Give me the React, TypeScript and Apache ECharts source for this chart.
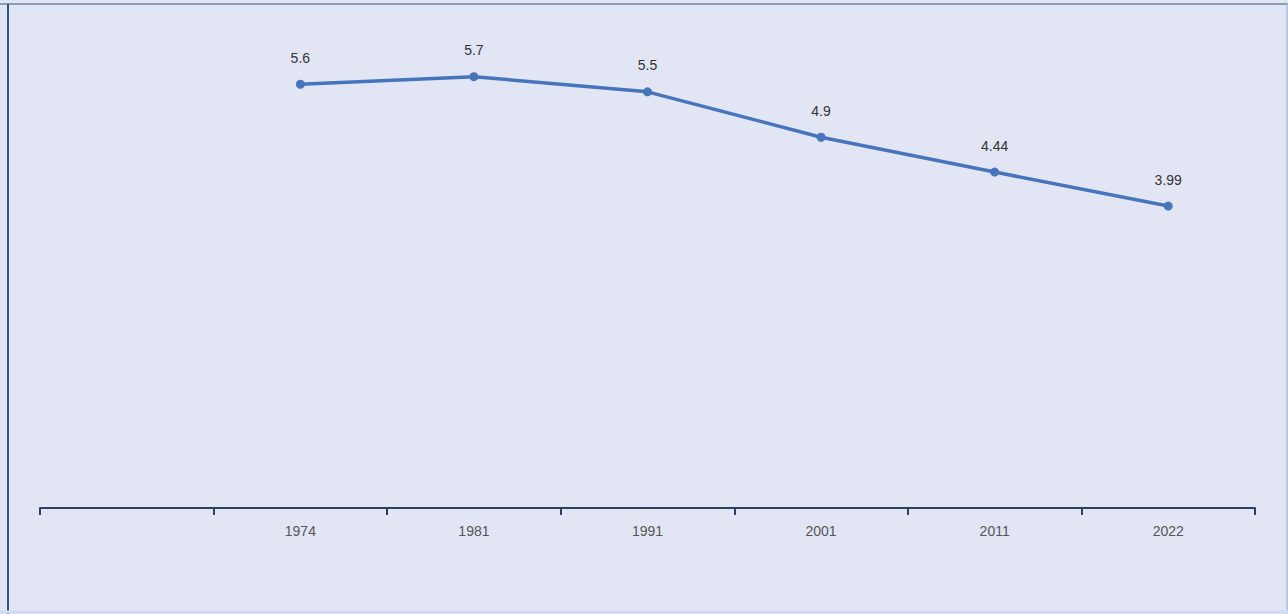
import React, { useEffect, useRef } from "react";
import * as echarts from "echarts";

const categories = ["", "1974", "1981", "1991", "2001", "2011", "2022"];
const values: (number | null)[] = [null, 5.6, 5.7, 5.5, 4.9, 4.44, 3.99];
const labels = ["", "5.6", "5.7", "5.5", "4.9", "4.44", "3.99"];

export default function App() {
  const ref = useRef<HTMLDivElement>(null);
  useEffect(() => {
    if (!ref.current) return;
    const chart = echarts.init(ref.current, undefined, { renderer: "svg" });
    chart.setOption({
      animation: false,
      backgroundColor: "#e2e5f4",
      grid: { left: 40, right: 33, top: 54, bottom: 106 },
      graphic: [
        { type: "line", shape: { x1: 0, y1: 4, x2: 1288, y2: 4 }, style: { stroke: "#8d9cb4", lineWidth: 2 } },
        { type: "rect", shape: { x: 0, y: 5, width: 1288, height: 8 }, style: { fill: "#dfe6f8" } },
        { type: "line", shape: { x1: 8, y1: 4, x2: 8, y2: 614 }, style: { stroke: "#3a4f86", lineWidth: 2 } },
        { type: "line", shape: { x1: 1287, y1: 4, x2: 1287, y2: 614 }, style: { stroke: "#a9bde0", lineWidth: 1.5 } },
        { type: "line", shape: { x1: 0, y1: 612, x2: 1288, y2: 612 }, style: { stroke: "#cfdcf3", lineWidth: 3 } },
      ],
      xAxis: {
        type: "category",
        data: categories,
        boundaryGap: true,
        axisLine: { lineStyle: { color: "#2e3f63", width: 2 } },
        axisTick: { show: true, length: 7, lineStyle: { color: "#2e3f63", width: 2 } },
        axisLabel: { color: "#555", fontSize: 14, fontFamily: "Liberation Sans, Arial, sans-serif", margin: 16 },
        splitLine: { show: false },
      },
      yAxis: {
        type: "value",
        min: 0,
        max: 6,
        show: false,
        splitLine: { show: false },
      },
      series: [
        {
          type: "line",
          data: values,
          symbol: "circle",
          symbolSize: 9,
          itemStyle: { color: "#4775bd" },
          lineStyle: { color: "#4775bd", width: 3.5 },
          label: {
            show: true,
            position: "top",
            distance: 15,
            color: "#333",
            fontSize: 14,
            fontFamily: "Liberation Sans, Arial, sans-serif",
            formatter: (p: any) => labels[p.dataIndex],
          },
        },
      ],
    });
    return () => chart.dispose();
  }, []);
  return (
    <div
      ref={ref}
      style={{ position: "fixed", left: 0, top: 0, width: 1288, height: 614 }}
    />
  );
}
